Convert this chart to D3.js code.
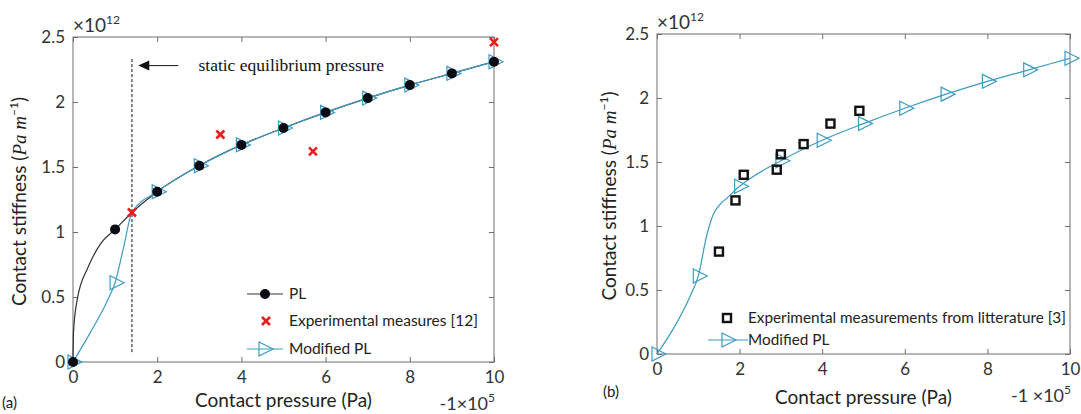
<!DOCTYPE html>
<html>
<head>
<meta charset="utf-8">
<script src="https://cdn.jsdelivr.net/npm/d3@7"></script>
<style>
  html, body { margin: 0; padding: 0; background: #fff; }
  svg { display: block; font-family: Lato, "Liberation Sans", sans-serif; }
</style>
</head>
<body>
<div id="chart"></div>
<script>
'use strict';

// x in units of 1e5 Pa, y in units of 1e12 Pa/m
const xTicks = [0, 2, 4, 6, 8, 10];
const yTicks = [0, 0.5, 1, 1.5, 2, 2.5];

// panel (a)
const plMarkers = [
    [0, 0], [1, 1.02], [2, 1.31], [3, 1.51], [4, 1.67], [5, 1.80],
    [6, 1.92], [7, 2.03], [8, 2.13], [9, 2.22], [10, 2.31]
];
// extra points read along the black curve before the first markers
const plCurveEarly = [
    [0.01, 0.22], [0.1, 0.48], [0.36, 0.73], [0.68, 0.92], [1.4, 1.15]
];
const modMarkersA = [
    [0, 0], [1, 0.61], [2, 1.31], [3, 1.51], [4, 1.67], [5, 1.80],
    [6, 1.92], [7, 2.03], [8, 2.13], [9, 2.22], [10, 2.31]
];
const modCurveEarlyA = [
    [0.4, 0.22], [0.83, 0.48], [1.2, 0.88], [1.4, 1.15]
];
const experimentsA = [[1.4, 1.15], [3.5, 1.75], [5.7, 1.62], [10, 2.46]];
const equilibriumPressure = 1.4;

// panel (b)
const modMarkersB = [
    [0, 0], [1, 0.61], [2, 1.31], [3, 1.51], [4, 1.67], [5, 1.80],
    [6, 1.92], [7, 2.03], [8, 2.13], [9, 2.22], [10, 2.31]
];
const modCurveEarlyB = [
    [0.4, 0.2], [0.8, 0.45], [1.2, 0.92], [1.35, 1.08], [1.5, 1.16], [1.7, 1.22]
];
const literature = [
    [1.5, 0.80], [1.9, 1.20], [2.1, 1.40], [2.9, 1.44], [3.0, 1.56],
    [3.55, 1.64], [4.2, 1.80], [4.9, 1.90]
];

const blue = '#3d9bc4';
const axisGrey = '#6e6e6e';
const textGrey = '#333';

const width = 1081;
const height = 414;

const svg = d3.select('#chart').append('svg')
    .attr('width', width)
    .attr('height', height);

const triangle = 'M-5,-7L9,0L-5,7Z';

function mergeCurve(markers, early) {
    return markers.concat(early).sort((a, b) => a[0] - b[0]);
}

function buildAxes(box) {
    const x = d3.scaleLinear().domain([0, 10]).range([box.left, box.right]);
    const y = d3.scaleLinear().domain([0, 2.5]).range([box.bottom, box.top]);

    const g = svg.append('g');

    const style = sel => {
        sel.select('.domain').remove();
        sel.selectAll('line').attr('stroke', axisGrey);
        sel.selectAll('text')
            .attr('fill', textGrey)
            .attr('font-size', 17)
            .attr('font-family', 'Lato, sans-serif');
    };

    g.append('g')
        .attr('transform', `translate(0,${box.bottom})`)
        .call(d3.axisBottom(x).tickValues(xTicks).tickSizeInner(-5).tickSizeOuter(0).tickPadding(9).tickFormat(d => d))
        .call(style);
    g.append('g')
        .attr('transform', `translate(0,${box.top})`)
        .call(d3.axisTop(x).tickValues(xTicks).tickSizeInner(-5).tickSizeOuter(0).tickFormat(''))
        .call(style);
    g.append('g')
        .attr('transform', `translate(${box.left},0)`)
        .call(d3.axisLeft(y).tickValues(yTicks).tickSizeInner(-5).tickSizeOuter(0).tickPadding(8).tickFormat(d => d))
        .call(style);
    g.append('g')
        .attr('transform', `translate(${box.right},0)`)
        .call(d3.axisRight(y).tickValues(yTicks).tickSizeInner(-5).tickSizeOuter(0).tickFormat(''))
        .call(style);

    g.append('rect')
        .attr('x', box.left)
        .attr('y', box.top)
        .attr('width', box.right - box.left)
        .attr('height', box.bottom - box.top)
        .attr('fill', 'none')
        .attr('stroke', axisGrey)
        .attr('stroke-width', 1);

    // exponent labels
    const yExp = g.append('text')
        .attr('x', box.left)
        .attr('y', box.top - 5)
        .attr('font-size', 19)
        .attr('fill', textGrey)
        .text('\u00d710');
    yExp.append('tspan').attr('font-size', 12).attr('dy', -8).text('12');

    const xExp = g.append('text')
        .attr('x', box.right + 1)
        .attr('y', box.bottom + 48)
        .attr('text-anchor', 'end')
        .attr('font-size', 18)
        .attr('fill', textGrey)
        .text(box.xExpText);
    xExp.append('tspan').attr('font-size', 12).attr('dy', -8).text('5');

    // axis titles
    g.append('text')
        .attr('x', (box.left + box.right) / 2)
        .attr('y', box.xLabelY)
        .attr('text-anchor', 'middle')
        .attr('font-size', 19)
        .attr('fill', '#222')
        .text('Contact pressure (Pa)');

    const yl = g.append('text')
        .attr('transform', `translate(${box.yLabelX},${(box.top + box.bottom) / 2 + 2}) rotate(-90)`)
        .attr('text-anchor', 'middle')
        .attr('font-size', 19)
        .attr('fill', '#222');
    yl.append('tspan').text('Contact stiffness (');
    yl.append('tspan')
        .attr('font-family', '"Liberation Serif", serif')
        .attr('font-style', 'italic')
        .text('Pa m');
    yl.append('tspan').attr('font-size', 12).attr('dy', -8).text('\u22121');
    yl.append('tspan').attr('dy', 8).text(')');

    g.append('text')
        .attr('x', box.tagX)
        .attr('y', box.tagY)
        .attr('font-size', 15)
        .attr('fill', '#222')
        .text(box.tag);

    return { x, y };
}

function drawLine(x, y, pts, color, curve) {
    svg.append('path')
        .datum(pts)
        .attr('fill', 'none')
        .attr('stroke', color)
        .attr('stroke-width', 1.2)
        .attr('d', d3.line().x(d => x(d[0])).y(d => y(d[1])).curve(curve));
}

function drawTriangles(x, y, pts) {
    svg.append('g').selectAll('path')
        .data(pts)
        .join('path')
        .attr('transform', d => `translate(${x(d[0])},${y(d[1])})`)
        .attr('d', triangle)
        .attr('fill', 'none')
        .attr('stroke', blue)
        .attr('stroke-width', 1.2);
}

function drawCross(sel) {
    sel.append('path')
        .attr('d', 'M-4,-4L4,4M-4,4L4,-4')
        .attr('stroke', '#ee1c1c')
        .attr('stroke-width', 2.6)
        .attr('fill', 'none');
}

function buildPanelA() {
    const { x, y } = buildAxes({
        left: 73, right: 494, top: 37, bottom: 362,
        xExpText: '-1\u00d710', xLabelY: 407, yLabelX: 26,
        tag: '(a)', tagX: 2, tagY: 408
    });

    // static equilibrium pressure marker
    svg.append('line')
        .attr('x1', x(equilibriumPressure))
        .attr('x2', x(equilibriumPressure))
        .attr('y1', y(2.33))
        .attr('y2', y(0.06))
        .attr('stroke', '#111')
        .attr('stroke-width', 1)
        .attr('stroke-dasharray', '3,2');

    const arrowY = y(2.28);
    svg.append('line')
        .attr('x1', x(2.5))
        .attr('x2', x(1.65))
        .attr('y1', arrowY)
        .attr('y2', arrowY)
        .attr('stroke', '#111')
        .attr('stroke-width', 1);
    svg.append('path')
        .attr('d', `M${x(1.55)},${arrowY}l11,-5l0,10z`)
        .attr('fill', '#111');
    svg.append('text')
        .attr('x', x(2.98))
        .attr('y', arrowY + 5)
        .attr('font-family', '"Liberation Serif", serif')
        .attr('font-size', 17.5)
        .attr('fill', '#111')
        .text('static equilibrium pressure');

    drawLine(x, y, mergeCurve(plMarkers, plCurveEarly), '#333', d3.curveMonotoneX);
    drawLine(x, y, mergeCurve(modMarkersA, modCurveEarlyA), blue, d3.curveMonotoneX);
    drawTriangles(x, y, modMarkersA);

    svg.append('g').selectAll('circle')
        .data(plMarkers)
        .join('circle')
        .attr('cx', d => x(d[0]))
        .attr('cy', d => y(d[1]))
        .attr('r', 5)
        .attr('fill', '#0a0a14');

    svg.append('g').selectAll('g')
        .data(experimentsA)
        .join('g')
        .attr('transform', d => `translate(${x(d[0])},${y(d[1])})`)
        .call(drawCross);

    // legend
    const legend = svg.append('g').attr('font-size', 15.5).attr('fill', '#222');
    legend.append('line').attr('x1', 247).attr('x2', 283).attr('y1', 294).attr('y2', 294)
        .attr('stroke', '#333').attr('stroke-width', 1.2);
    legend.append('circle').attr('cx', 265).attr('cy', 294).attr('r', 5).attr('fill', '#0a0a14');
    legend.append('text').attr('x', 289).attr('y', 299).text('PL');

    legend.append('g').attr('transform', 'translate(266,321)').call(drawCross);
    legend.append('text').attr('x', 289).attr('y', 326).text('Experimental measures [12]');

    legend.append('line').attr('x1', 247).attr('x2', 283).attr('y1', 349).attr('y2', 349)
        .attr('stroke', blue).attr('stroke-width', 1.2);
    legend.append('path').attr('transform', 'translate(264,349)').attr('d', triangle)
        .attr('fill', 'none').attr('stroke', blue).attr('stroke-width', 1.2);
    legend.append('text').attr('x', 289).attr('y', 354).text('Modified PL');
}

function buildPanelB() {
    const { x, y } = buildAxes({
        left: 657, right: 1070, top: 34, bottom: 354,
        xExpText: '-1 \u00d710', xLabelY: 404, yLabelX: 616,
        tag: '(b)', tagX: 603, tagY: 397
    });

    drawLine(x, y, mergeCurve(modMarkersB, modCurveEarlyB), blue, d3.curveMonotoneX);
    drawTriangles(x, y, modMarkersB);

    svg.append('g').selectAll('rect')
        .data(literature)
        .join('rect')
        .attr('x', d => x(d[0]) - 4)
        .attr('y', d => y(d[1]) - 4)
        .attr('width', 8)
        .attr('height', 8)
        .attr('fill', 'none')
        .attr('stroke', '#111')
        .attr('stroke-width', 2.4);

    const legend = svg.append('g').attr('font-size', 15.3).attr('fill', '#222');
    legend.append('rect').attr('x', 723).attr('y', 314).attr('width', 8).attr('height', 8)
        .attr('fill', 'none').attr('stroke', '#111').attr('stroke-width', 2.4);
    legend.append('text').attr('x', 748).attr('y', 323).text('Experimental measurements from litterature [3]');

    legend.append('line').attr('x1', 708).attr('x2', 748).attr('y1', 340).attr('y2', 340)
        .attr('stroke', blue).attr('stroke-width', 1.2);
    legend.append('path').attr('transform', 'translate(727,340)').attr('d', triangle)
        .attr('fill', 'none').attr('stroke', blue).attr('stroke-width', 1.2);
    legend.append('text').attr('x', 748).attr('y', 345).text('Modified PL');
}

buildPanelA();
buildPanelB();
</script>
</body>
</html>
